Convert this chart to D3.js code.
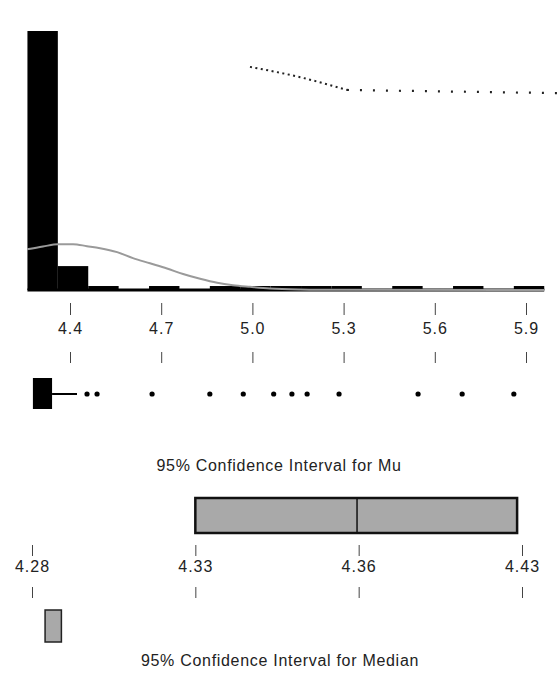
<!DOCTYPE html>
<html>
<head>
<meta charset="utf-8">
<script src="https://cdn.jsdelivr.net/npm/d3@7"></script>
<style>
  html, body { margin: 0; padding: 0; background: #fff; }
  svg { display: block; font-family: "Liberation Sans", Arial, sans-serif; }
  .tick text { fill: #222; font-size: 16px; letter-spacing: 1px; }
  .tick line { stroke: #444; }
  .ci-title { fill: #222; font-size: 16px; letter-spacing: 0.7px; }
</style>
</head>
<body>
<svg id="chart" width="560" height="677"></svg>
<script>
// Minitab-style graphical summary: histogram + normal fit, boxplot, CI for mu and median.

const W = 560, H = 677;

// histogram
const binStart = 4.26;
const binWidth = 0.1;
const binCounts = [65, 6, 1, 0, 1, 0, 1, 1, 1, 1, 1, 0, 1, 0, 1, 0, 1];
const histTicks = [4.4, 4.7, 5.0, 5.3, 5.6, 5.9];

// fitted normal curve [value, count]
const curveX = [4.259, 4.311, 4.361, 4.410, 4.456, 4.499, 4.555, 4.607, 4.663, 4.719,
                4.772, 4.828, 4.884, 4.936, 4.992, 5.058, 5.157, 5.288, 5.96];
const curveY = [10.2, 10.9, 11.5, 11.5, 11.0, 10.5, 9.5, 8.0, 6.7, 5.4,
                4.0, 2.8, 1.8, 1.2, 0.8, 0.4, 0.15, 0.05, 0];

// dotted trace at top right [value, count]
const traceSlantX = [4.992, 5.157, 5.311];
const traceSlantY = [56.0, 53.4, 50.2];
const traceFlatX = [5.311, 6.012];
const traceFlatY = [50.2, 49.4];

// boxplot
const boxQ = [4.278, 4.341];
const whiskerHi = 4.423;
const outliers = [4.456, 4.489, 4.67, 4.86, 4.97, 5.07, 5.13, 5.18, 5.285, 5.545, 5.69, 5.86];

// confidence intervals
const ciTicks = [4.28, 4.33, 4.38, 4.43];
const ciTickLabels = ["4.28", "4.33", "4.36", "4.43"];
const muCI = [4.330, 4.4285];
const muMean = 4.3795;
const medianCI = [4.284, 4.289];

const svg = d3.select("#chart");
svg.append("rect").attr("width", W).attr("height", H).attr("fill", "#fff");

const xH = d3.scaleLinear().domain([4.4, 5.9]).range([70, 526]);
const yH = d3.scaleLinear().domain([0, 65]).range([290, 31]);

//Bars
const bins = binCounts.map((c, i) => ({
  x0: binStart + i * binWidth,
  x1: binStart + (i + 1) * binWidth,
  count: c
}));

svg.append("g").selectAll("rect")
  .data(bins)
  .join("rect")
  .attr("x", d => xH(d.x0))
  .attr("y", d => yH(d.count))
  .attr("width", d => xH(d.x1) - xH(d.x0))
  .attr("height", d => yH(0) - yH(d.count))
  .attr("fill", "#000");

//Baseline
svg.append("line")
  .attr("x1", xH(binStart))
  .attr("x2", xH(binStart + binCounts.length * binWidth))
  .attr("y1", yH(0)).attr("y2", yH(0))
  .attr("stroke", "#000").attr("stroke-width", 3);

//Normal curve
const curve = curveX.map((v, i) => [v, curveY[i]]);
svg.append("path")
  .datum(curve)
  .attr("fill", "none")
  .attr("stroke", "#9a9a9a")
  .attr("stroke-width", 2)
  .attr("d", d3.line().x(d => xH(d[0])).y(d => yH(d[1])).curve(d3.curveMonotoneX));

//Dotted trace
svg.append("path")
  .datum(traceSlantX.map((v, i) => [v, traceSlantY[i]]))
  .attr("fill", "none")
  .attr("stroke", "#222")
  .attr("stroke-width", 2)
  .attr("stroke-dasharray", "2,3.5")
  .attr("d", d3.line().x(d => xH(d[0])).y(d => yH(d[1])).curve(d3.curveMonotoneX));

svg.append("path")
  .datum(traceFlatX.map((v, i) => [v, traceFlatY[i]]))
  .attr("fill", "none")
  .attr("stroke", "#222")
  .attr("stroke-width", 2.2)
  .attr("stroke-dasharray", "2,11")
  .attr("d", d3.line().x(d => xH(d[0])).y(d => yH(d[1])));

//Histogram axis (ticks above and below labels)
svg.append("g")
  .attr("transform", "translate(0,303)")
  .call(d3.axisBottom(xH).tickValues(histTicks).tickSize(12).tickPadding(8).tickFormat(d3.format(".1f")))
  .call(g => g.select(".domain").remove());

svg.append("g")
  .attr("transform", "translate(0,363)")
  .call(d3.axisTop(xH).tickValues(histTicks).tickSize(11).tickFormat(""))
  .call(g => g.select(".domain").remove());

//Boxplot
const boxY = 394;
svg.append("rect")
  .attr("x", xH(boxQ[0]))
  .attr("y", boxY - 16)
  .attr("width", xH(boxQ[1]) - xH(boxQ[0]))
  .attr("height", 31)
  .attr("fill", "#000");

svg.append("line")
  .attr("x1", xH(boxQ[1])).attr("x2", xH(whiskerHi))
  .attr("y1", boxY).attr("y2", boxY)
  .attr("stroke", "#000").attr("stroke-width", 2);

svg.append("g").selectAll("circle")
  .data(outliers)
  .join("circle")
  .attr("cx", d => xH(d))
  .attr("cy", boxY)
  .attr("r", 2.6)
  .attr("fill", "#000");

//CI for Mu
const xC = d3.scaleLinear().domain([4.28, 4.43]).range([32, 522]);

svg.append("text")
  .attr("class", "ci-title")
  .attr("x", 279).attr("y", 471)
  .attr("text-anchor", "middle")
  .text("95% Confidence Interval for Mu");

svg.append("rect")
  .attr("x", xC(muCI[0]))
  .attr("y", 498)
  .attr("width", xC(muCI[1]) - xC(muCI[0]))
  .attr("height", 35)
  .attr("fill", "#a9a9a9")
  .attr("stroke", "#111")
  .attr("stroke-width", 2.5);

svg.append("line")
  .attr("x1", xC(muMean)).attr("x2", xC(muMean))
  .attr("y1", 498).attr("y2", 533)
  .attr("stroke", "#111").attr("stroke-width", 1.5);

svg.append("g")
  .attr("transform", "translate(0,545)")
  .call(d3.axisBottom(xC).tickValues(ciTicks).tickSize(11).tickPadding(5)
    .tickFormat((d, i) => ciTickLabels[i]))
  .call(g => g.select(".domain").remove());

svg.append("g")
  .attr("transform", "translate(0,598)")
  .call(d3.axisTop(xC).tickValues(ciTicks).tickSize(11).tickFormat(""))
  .call(g => g.select(".domain").remove());

//CI for Median
svg.append("rect")
  .attr("x", xC(medianCI[0]))
  .attr("y", 610)
  .attr("width", xC(medianCI[1]) - xC(medianCI[0]))
  .attr("height", 32)
  .attr("fill", "#a9a9a9")
  .attr("stroke", "#222")
  .attr("stroke-width", 1.5);

svg.append("text")
  .attr("class", "ci-title")
  .attr("x", 280).attr("y", 666)
  .attr("text-anchor", "middle")
  .text("95% Confidence Interval for Median");
</script>
</body>
</html>
